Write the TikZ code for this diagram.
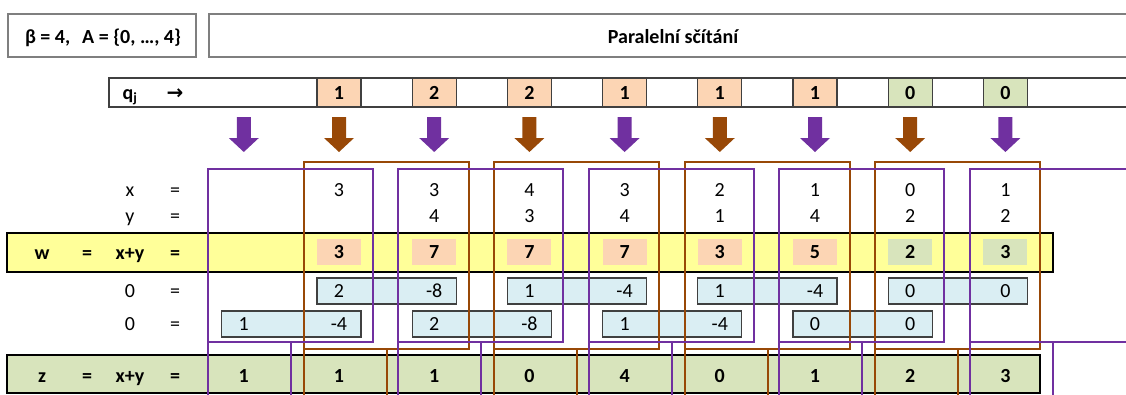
\documentclass[tikz,border=0pt]{standalone}
\usepackage{fontspec}
\setmainfont{Carlito}
\newfontfamily\dejavu{DejaVu Sans}
\definecolor{purp}{HTML}{7030A0}
\definecolor{brn}{HTML}{984807}
\definecolor{orfill}{HTML}{FCD5B4}
\definecolor{grfill}{HTML}{D8E4BC}
\definecolor{yelfill}{HTML}{FFFF99}
\definecolor{bluefill}{HTML}{DAEEF3}
\definecolor{gridc}{HTML}{404040}
\definecolor{boxgray}{HTML}{7F7F7F}
\begin{document}
\begin{tikzpicture}[x=1pt,y=-1pt,
  txt/.style={font=\fontsize{20}{22}\selectfont, inner sep=0pt, anchor=base},
  btxt/.style={font=\fontsize{20}{22}\selectfont\bfseries, inner sep=0pt, anchor=base},
  box/.style={rectangle, inner sep=0pt, outer sep=0pt},
  topbox/.style={box, draw=boxgray, line width=1.5pt, anchor=north west},
  qcell/.style={box, draw=gridc, line width=1.2pt, minimum width=44pt, minimum height=29pt},
  wcell/.style={box, minimum width=44pt, minimum height=26pt},
  bluebox/.style={box, fill=bluefill, draw=gridc, line width=1.2pt, minimum width=139.2pt, minimum height=26pt},
  rowband/.style={box, draw=black, line width=2.2pt, anchor=north west},
  pframe/.style={box, draw=purp, line width=2pt, anchor=north west},
  bframe/.style={box, draw=brn, line width=2pt, anchor=north west}
]
\useasboundingbox (0,0) rectangle (1126,394);
\begin{scope}
\clip (0,0) rectangle (1126,394);

% header boxes
\node[topbox, minimum width=188pt, minimum height=43pt] (param) at (8,14) {};
\node[btxt] (paramtxt) at (103,43) {β = 4,\hspace{12pt}A = \{0, …, 4\}};
\node[topbox, minimum width=931pt, minimum height=43pt] (title) at (209,14) {};
\node[btxt] (titletxt) at (673,43) {Paralelní sčítání};

% q_j strip
\node[box, draw=gridc, line width=1.2pt, anchor=north west, minimum width=1031pt, minimum height=29pt] (qstrip) at (109,78) {};
\node[btxt] (qlabel) at (130,99.5) {q\textsubscript{j}};
\node[btxt] (qarrow) at (175,99.5) {\dejavu\bfseries →};
\foreach \i/\v/\c in {1/1/orfill,2/2/orfill,3/2/orfill,4/1/orfill,5/1/orfill,6/1/orfill,7/0/grfill,8/0/grfill}{
  \node[qcell, fill=\c] (q\i) at ({243.8+95.2*\i},92.5) {};
  \node[btxt] (qv\i) at ({243.8+95.2*\i},99.5) {\v};
}

% block arrows
\foreach \i/\c in {0/purp,1/brn,2/purp,3/brn,4/purp,5/brn,6/purp,7/brn,8/purp}{
  \coordinate (arr\i) at ({243.8+95.2*\i},117);
  \fill[\c] (arr\i) ++(-7,0) -- ++(14,0) -- ++(0,21) -- ++(8,0) -- ++(-15,14) -- ++(-15,-14) -- ++(8,0) -- cycle;
}

% w row
\node[rowband, fill=yelfill, minimum width=1046pt, minimum height=39pt] (wrow) at (7,233) {};
\foreach \i/\v/\c in {1/3/orfill,2/7/orfill,3/7/orfill,4/7/orfill,5/3/orfill,6/5/orfill,7/2/grfill,8/3/grfill}{
  \node[wcell, fill=\c] (w\i) at ({243.8+95.2*\i},252) {};
  \node[btxt] (wv\i) at ({243.8+95.2*\i},258.5) {\v};
}

% z row
\node[rowband, fill=grfill, minimum width=1033pt, minimum height=38pt] (zrow) at (7,355) {};
\foreach \i/\v in {0/1,1/1,2/1,3/0,4/4,5/0,6/1,7/2,8/3}{
  \node[btxt] (zv\i) at ({243.8+95.2*\i},382.5) {\v};
}

% carry boxes
\foreach \i/\a/\b in {1/2/-8,3/1/-4,5/1/-4,7/0/0}{
  \node[bluebox] (ra\i) at ({243.8+95.2*\i+47.6},291) {};
  \node[txt] (raa\i) at ({243.8+95.2*\i},297.5) {\a};
  \node[txt] (rab\i) at ({243.8+95.2*(\i+1)},297.5) {\b};
}
\foreach \i/\a/\b in {0/1/-4,2/2/-8,4/1/-4,6/0/0}{
  \node[bluebox] (rb\i) at ({243.8+95.2*\i+47.6},324) {};
  \node[txt] (rba\i) at ({243.8+95.2*\i},330.5) {\a};
  \node[txt] (rbb\i) at ({243.8+95.2*(\i+1)},330.5) {\b};
}

% x and y values
\foreach \i/\v in {1/3,2/3,3/4,4/3,5/2,6/1,7/0,8/1}{
  \node[txt] (xv\i) at ({243.8+95.2*\i},196.5) {\v};
}
\foreach \i/\v in {2/4,3/3,4/4,5/1,6/4,7/2,8/2}{
  \node[txt] (yv\i) at ({243.8+95.2*\i},222.5) {\v};
}

% row labels
\node[txt] (lx) at (130,196.5) {x};
\node[txt] (lxe) at (175,196.5) {=};
\node[txt] (ly) at (130,222.5) {y};
\node[txt] (lye) at (175,222.5) {=};
\node[btxt] (lw) at (42,259) {w};
\node[btxt] (lwe1) at (87,259) {=};
\node[btxt] (lwxy) at (130,259) {x+y};
\node[btxt] (lwe2) at (175,259) {=};
\node[txt] (l01) at (130,297.5) {0};
\node[txt] (l01e) at (175,297.5) {=};
\node[txt] (l02) at (130,330.5) {0};
\node[txt] (l02e) at (175,330.5) {=};
\node[btxt] (lz) at (42,382.5) {z};
\node[btxt] (lze1) at (87,382.5) {=};
\node[btxt] (lzxy) at (130,382.5) {x+y};
\node[btxt] (lze2) at (175,382.5) {=};

% frames
\foreach \k in {0,1,2,3}{
  \node[bframe, minimum width=165pt, minimum height=187pt] (bf\k) at ({304+190.4*\k},162) {};
  \node[bframe, minimum width=83pt, minimum height=60pt] (bl\k) at ({304+190.4*\k},349) {};
}
\foreach \k in {0,1,2,3,4}{
  \node[pframe, minimum width=165pt, minimum height=173.5pt] (pf\k) at ({208+190.4*\k},168.5) {};
  \node[pframe, minimum width=83pt, minimum height=60pt] (pl\k) at ({208+190.4*\k},342) {};
}
\end{scope}
\end{tikzpicture}
\end{document}
